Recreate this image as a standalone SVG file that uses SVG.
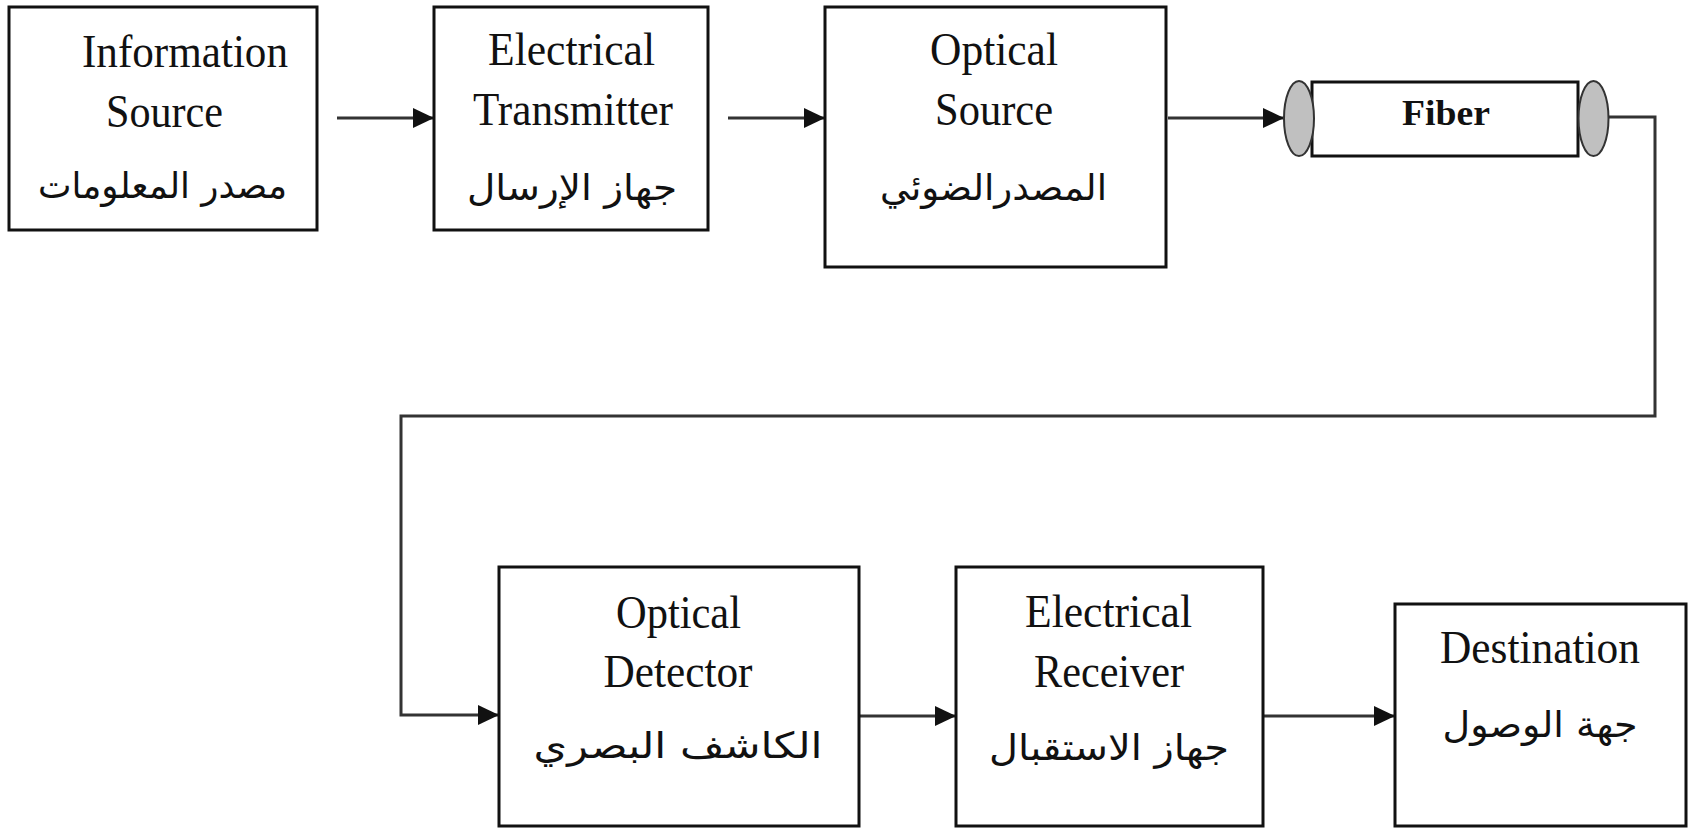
<svg xmlns="http://www.w3.org/2000/svg" width="1688" height="828" viewBox="0 0 1688 828">
<style>
.box{fill:#fff;stroke:#111;stroke-width:3}
.en{font-family:"Liberation Serif","Times New Roman",serif;font-size:47px;fill:#111;text-anchor:middle}
.ar{font-family:"DejaVu Sans","Noto Sans",sans-serif;font-size:36px;fill:#111;text-anchor:middle}
.fb{font-family:"Liberation Serif","Times New Roman",serif;font-size:36px;font-weight:bold;fill:#111;text-anchor:middle}
.con{fill:none;stroke:#333;stroke-width:3}
.ell{fill:#c0c0c0;stroke:#333;stroke-width:2}
</style>
<defs>
<marker id="arr" markerUnits="userSpaceOnUse" markerWidth="24" markerHeight="22" refX="21" refY="10" orient="auto">
<path d="M0,0 L21,10 L0,20 z" fill="#111"/>
</marker>
</defs>
<rect width="1688" height="828" fill="#fff"/>
<g id="connectors">
<path class="con" d="M337,118 H434" marker-end="url(#arr)"/>
<path class="con" d="M728,118 H825" marker-end="url(#arr)"/>
<path class="con" d="M1168,118 H1284" marker-end="url(#arr)"/>
<path class="con" d="M1609,117 H1655 V416 H401 V715 H499" marker-end="url(#arr)"/>
<path class="con" d="M859,716 H956" marker-end="url(#arr)"/>
<path class="con" d="M1263,716 H1395" marker-end="url(#arr)"/>
</g>
<g id="info-source">
<rect class="box" x="9" y="7" width="308" height="223"/>
<text class="en" x="185" y="67" textLength="206" lengthAdjust="spacingAndGlyphs">Information</text>
<text class="en" x="164.5" y="127" textLength="117" lengthAdjust="spacingAndGlyphs">Source</text>
<text class="ar" x="162.5" y="198" textLength="249" lengthAdjust="spacingAndGlyphs">مصدر المعلومات</text>
</g>
<g id="electrical-transmitter">
<rect class="box" x="434" y="7" width="274" height="223"/>
<text class="en" x="571.5" y="65" textLength="167" lengthAdjust="spacingAndGlyphs">Electrical</text>
<text class="en" x="573" y="125" textLength="200" lengthAdjust="spacingAndGlyphs">Transmitter</text>
<text class="ar" x="572" y="200" textLength="210" lengthAdjust="spacingAndGlyphs">جهاز الإرسال</text>
</g>
<g id="optical-source">
<rect class="box" x="825" y="7" width="341" height="260"/>
<text class="en" x="994" y="65" textLength="128" lengthAdjust="spacingAndGlyphs">Optical</text>
<text class="en" x="994" y="125" textLength="118" lengthAdjust="spacingAndGlyphs">Source</text>
<text class="ar" x="993.5" y="200" textLength="227" lengthAdjust="spacingAndGlyphs">المصدرالضوئي</text>
</g>
<g id="fiber">
<rect class="box" x="1312" y="82" width="266" height="74"/>
<ellipse class="ell" cx="1299" cy="118.5" rx="15" ry="37.5"/>
<ellipse class="ell" cx="1593.5" cy="118.5" rx="15" ry="37.5"/>
<text class="fb" x="1446" y="125" textLength="88" lengthAdjust="spacingAndGlyphs">Fiber</text>
</g>
<g id="optical-detector">
<rect class="box" x="499" y="567" width="360" height="259"/>
<text class="en" x="678.5" y="628" textLength="125" lengthAdjust="spacingAndGlyphs">Optical</text>
<text class="en" x="678" y="687" textLength="149" lengthAdjust="spacingAndGlyphs">Detector</text>
<text class="ar" x="678" y="758" textLength="289" lengthAdjust="spacingAndGlyphs">الكاشف البصري</text>
</g>
<g id="electrical-receiver">
<rect class="box" x="956" y="567" width="307" height="259"/>
<text class="en" x="1108.5" y="627" textLength="167" lengthAdjust="spacingAndGlyphs">Electrical</text>
<text class="en" x="1109" y="687" textLength="150" lengthAdjust="spacingAndGlyphs">Receiver</text>
<text class="ar" x="1109" y="760" textLength="240" lengthAdjust="spacingAndGlyphs">جهاز الاستقبال</text>
</g>
<g id="destination">
<rect class="box" x="1395" y="604" width="291" height="222"/>
<text class="en" x="1540" y="663" textLength="200" lengthAdjust="spacingAndGlyphs">Destination</text>
<text class="ar" x="1540" y="737" textLength="195" lengthAdjust="spacingAndGlyphs">جهة الوصول</text>
</g>
</svg>
